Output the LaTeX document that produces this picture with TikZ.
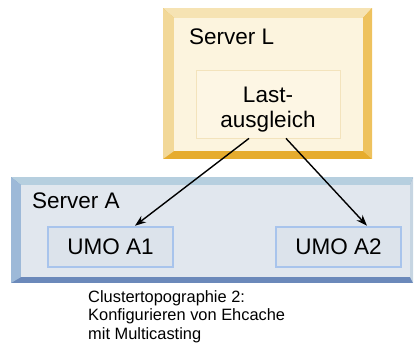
\documentclass[tikz,border=0pt]{standalone}
\usepackage{fontspec}
\setmainfont{Liberation Sans}
\usetikzlibrary{arrows.meta, positioning}

\definecolor{goldF}{HTML}{FCF4DE}
\definecolor{goldT}{HTML}{F6E3B3}
\definecolor{goldL}{HTML}{F2D898}
\definecolor{goldR}{HTML}{EEC25E}
\definecolor{goldB}{HTML}{E6AC2E}
\definecolor{lastF}{HTML}{FDF6E4}
\definecolor{lastD}{HTML}{F3E3BC}
\definecolor{blueF}{HTML}{E1E7EE}
\definecolor{blueT}{HTML}{B6CFDF}
\definecolor{blueL}{HTML}{9DB9D8}
\definecolor{blueR}{HTML}{C6D5E2}
\definecolor{blueB}{HTML}{6B89BA}
\definecolor{umoD}{HTML}{A8C4EC}
\definecolor{umoF}{HTML}{DCE3EB}

\tikzstyle{arrow} = [line width=1.4pt,-{Stealth[length=11pt,width=8pt]},draw=black]
\tikzstyle{lbl} = [font=\fontsize{22.5}{26}\selectfont, inner sep=0pt]
\tikzstyle{face} = [inner sep=0pt, anchor=north west]
\tikzstyle{lastbox} = [draw=lastD, fill=lastF, line width=0.8pt, minimum width=144, minimum height=68]
\tikzstyle{umo} = [draw=umoD, fill=umoF, line width=2.5pt, minimum width=125, minimum height=40, font=\fontsize{22.5}{26}\selectfont]

\begin{document}
\begin{tikzpicture}[x=1pt, y=-1pt]
    \useasboundingbox (0,0) rectangle (414,356);

    % Server L
    \fill[goldB] (163,8) rectangle (372,159);
    \fill[goldT] (163,8) -- (372,8) -- (363,18) -- (174,18) -- cycle;
    \fill[goldL] (163,8) -- (174,18) -- (174,151) -- (163,159) -- cycle;
    \fill[goldR] (372,8) -- (372,159) -- (363,151) -- (363,18) -- cycle;
    \node (srvL) [face, fill=goldF, minimum width=189, minimum height=133] at (174,18) {};
    \node (srvLtxt) [lbl, anchor=west] at (189,37) {Server L};
    \node (lb) [lastbox] at (268,104) {};
    \node (lbtxt) [lbl, align=center, font=\fontsize{22.5}{25}\selectfont] at (268,110) {Last-\\ausgleich};

    % Server A
    \fill[blueB] (11,177) rectangle (413,283);
    \fill[blueT] (11,177) -- (413,177) -- (410,185) -- (21,185) -- cycle;
    \fill[blueL] (11,177) -- (21,185) -- (21,277) -- (11,283) -- cycle;
    \fill[blueR] (413,177) -- (413,283) -- (410,277) -- (410,185) -- cycle;
    \node (srvA) [face, fill=blueF, minimum width=389, minimum height=92] at (21,185) {};
    \node (srvAtxt) [lbl, anchor=west] at (32,201) {Server A};
    \node (umoA) [umo] at (110.5,247) {UMO A1};
    \node (umoB) [umo] at (338.5,247) {UMO A2};

    \draw[arrow] ([xshift=-19]lb.south) -- ([xshift=24.5]umoA.north);
    \draw[arrow] ([xshift=18]lb.south) -- ([xshift=28.5]umoB.north);

    % caption
    \node (cap) [anchor=north west, align=left, inner sep=0pt, font=\fontsize{16.4}{18.5}\selectfont] at (88,290)
        {Clustertopographie 2:\\Konfigurieren von Ehcache\\mit Multicasting};
\end{tikzpicture}
\end{document}
